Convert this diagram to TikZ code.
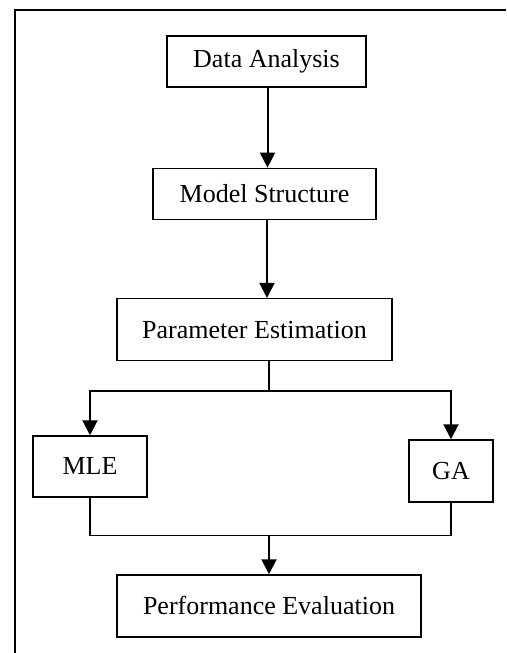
\documentclass[tikz,border=0pt]{standalone}
\usepackage{fontspec}
\setmainfont{Liberation Serif}
\usepackage{tikz}
\usetikzlibrary{positioning, arrows.meta}
\tikzset{
  box/.style  = {rectangle, draw=black, line width=1.3pt, fill=white,
                 inner sep=0pt, align=center,
                 font=\fontsize{26}{30}\selectfont},
  arr/.style  = {-{Triangle[length=15pt,width=15pt]}, line width=2pt, draw=black},
  link/.style = {line width=1.3pt, draw=black},
}

\begin{document}
\begin{tikzpicture}[x=1pt, y=1pt]

  \useasboundingbox (0,0) rectangle (506,-653);

  % outer frame
  \coordinate (fbl) at (15,-653);
  \coordinate (ftl) at (15,-10);
  \coordinate (ftr) at (506,-10);
  \draw[line width=2pt] (fbl) -- (ftl) -- (ftr);

  \node[box, minimum width=199pt, minimum height=51pt] (da) at (266.5,-61.5) {Data Analysis};
  \node[box, minimum width=223pt, minimum height=51pt, below=80pt of da, xshift=-2pt] (ms) {Model Structure};
  \node[box, minimum width=275pt, minimum height=62pt, below=78pt of ms, xshift=-10pt] (pe) {Parameter Estimation};

  \node[box, minimum width=114pt, minimum height=61pt, below=74pt of pe, xshift=-164.5pt] (mle) {MLE};
  \node[box, minimum width=84pt, minimum height=62pt, below=78pt of pe, xshift=196.5pt] (ga) {GA};

  \node[box, minimum width=304pt, minimum height=62pt, below=213pt of pe, xshift=14.5pt] (perf) {Performance Evaluation};

  \coordinate (sp) at ([xshift=14.5pt, yshift=-30pt]pe.south);
  \coordinate (jn) at ([yshift=39pt]perf.north);

  \draw[arr] ([xshift=1pt]da.south) -- ([xshift=1pt]da.south |- ms.north);
  \draw[arr] ([xshift=2.5pt]ms.south) -- ([xshift=2.5pt]ms.south |- pe.north);
  \draw[link] (sp |- pe.south) -- (sp);
  \draw[arr] (sp) -| (mle.north);
  \draw[arr] (sp) -| (ga.north);
  \draw[link] (mle.south) |- (jn) -| (ga.south);
  \draw[arr] (jn) -- (perf.north);

\end{tikzpicture}
\end{document}
